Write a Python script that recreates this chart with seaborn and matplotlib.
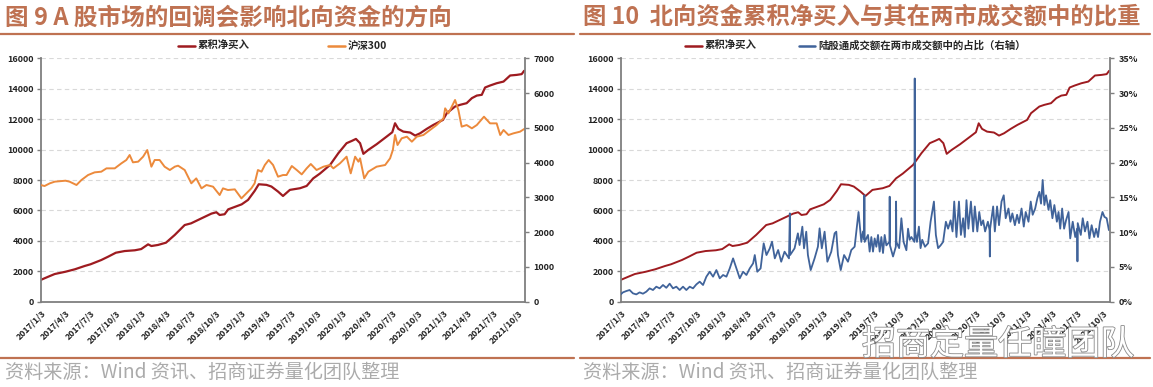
import numpy as np
import pandas as pd
import matplotlib
matplotlib.use("Agg")
import matplotlib.pyplot as plt
from matplotlib.lines import Line2D
import matplotlib.patheffects as pe
import seaborn as sns

# ---------------- data ----------------
# cumulative northbound net buy (亿元), left axis of both panels
net_dates = ["2017-01-03","2017-01-30","2017-02-23","2017-04-03","2017-05-07","2017-06-12","2017-07-03","2017-08-11",
             "2017-09-05","2017-10-03","2017-11-04","2017-12-11",
             "2018-01-03","2018-01-28","2018-02-09","2018-03-05","2018-04-03","2018-05-05","2018-06-10","2018-07-03",
             "2018-08-10","2018-09-15","2018-10-03","2018-10-15","2018-11-02","2018-11-15",
             "2019-01-03","2019-01-26","2019-02-19","2019-03-06","2019-04-03","2019-04-21","2019-05-15","2019-06-02",
             "2019-06-27","2019-08-03","2019-08-27","2019-09-20","2019-10-14","2019-11-20","2019-12-20",
             "2020-01-19","2020-02-07","2020-02-22","2020-03-08","2020-03-20","2020-04-07","2020-05-07","2020-06-13",
             "2020-07-03","2020-07-13","2020-07-25","2020-08-12","2020-09-06","2020-09-24","2020-10-12","2020-11-05",
             "2020-11-29",
             "2021-01-03","2021-01-17","2021-02-16","2021-03-06","2021-03-30","2021-04-18","2021-05-06","2021-05-24",
             "2021-06-05","2021-06-23","2021-07-17","2021-08-11","2021-09-04","2021-09-28","2021-10-16","2021-10-25"]
net_values = [1430,1640,1820,1970,2130,2350,2460,2740,2960,3220,3330,3380,
              3460,3770,3660,3730,3880,4390,5040,5150,5480,5790,5880,5700,5750,6070,
              6400,6690,7280,7720,7680,7570,7240,6950,7350,7460,7610,8110,8420,8990,9760,
              10420,10570,10700,10420,9720,9980,10350,10860,11140,11730,11360,11180,11120,10920,11070,11360,11620,
              11950,12390,12830,12940,13050,13380,13550,13600,14080,14210,14360,14470,14870,14910,14960,15180]

# CSI 300 index, right axis of the left panel
hs300_dates = ["2017-01-03","2017-01-17","2017-02-05","2017-02-23","2017-04-03","2017-04-18","2017-05-13","2017-05-31",
               "2017-06-24","2017-07-18","2017-08-11","2017-08-30","2017-09-29","2017-10-23","2017-11-10","2017-11-22",
               "2017-12-04","2017-12-23",
               "2018-01-10","2018-01-25","2018-02-09","2018-02-21","2018-03-11","2018-03-29","2018-04-17","2018-05-05",
               "2018-05-17","2018-06-10","2018-07-04","2018-07-22","2018-08-10","2018-08-28","2018-09-21","2018-10-15",
               "2018-10-27","2018-11-14","2018-12-09",
               "2019-01-02","2019-01-20","2019-02-07","2019-02-19","2019-03-03","2019-03-16","2019-03-28","2019-04-11",
               "2019-04-27","2019-05-15","2019-06-02","2019-06-15","2019-07-04","2019-07-22","2019-08-09","2019-08-27",
               "2019-09-11","2019-10-02","2019-10-27","2019-11-20","2019-12-02","2019-12-26",
               "2020-01-19","2020-02-03","2020-02-19","2020-03-02","2020-03-08","2020-03-23","2020-04-07","2020-05-07",
               "2020-06-07","2020-06-25","2020-07-05","2020-07-13","2020-07-22","2020-08-06","2020-08-25","2020-09-12",
               "2020-09-30","2020-10-24","2020-11-17","2020-12-11",
               "2021-01-05","2021-01-11","2021-01-23","2021-02-04","2021-02-16","2021-02-28","2021-03-12","2021-03-30",
               "2021-04-18","2021-05-06","2021-06-01","2021-06-23","2021-07-17","2021-07-30","2021-08-11","2021-08-29",
               "2021-09-16","2021-10-10","2021-10-25"]
hs300_values = [3356,3327,3404,3452,3480,3452,3356,3500,3643,3720,3739,3835,3835,3979,4075,4219,4008,4027,
                4171,4362,3883,4075,4075,3883,3787,3883,3912,3787,3404,3547,3260,3356,3308,3068,3260,3212,3231,
                2972,3116,3260,3404,3787,3739,3931,4075,3931,3595,3643,3643,3902,3787,3662,3835,3960,3787,3883,
                3931,3835,3979,
                4171,3691,4171,4027,4123,3547,3739,3883,3931,4123,4362,4794,4506,4698,4746,4602,4746,4794,4938,5081,
                5273,5561,5417,5609,5801,5513,5034,5081,4986,5081,5321,5129,5129,4794,4938,4794,4842,4890,4966]

# Stock Connect turnover as share of A-share turnover (%), right axis of the right panel
share_dates = ["2017-01-03","2017-01-11","2017-01-23","2017-02-04","2017-02-16","2017-02-28","2017-03-12","2017-03-24",
               "2017-04-05","2017-04-17","2017-04-29","2017-05-11","2017-05-23","2017-06-04","2017-06-16","2017-06-28",
               "2017-07-10","2017-07-22","2017-08-03","2017-08-15","2017-08-27","2017-09-08","2017-09-20","2017-10-02",
               "2017-10-14","2017-10-26","2017-11-07","2017-11-19","2017-12-01","2017-12-13","2017-12-25",
               "2018-01-06","2018-01-18","2018-01-30","2018-02-11","2018-02-23","2018-03-07","2018-03-19","2018-03-31",
               "2018-04-12","2018-04-24","2018-04-30","2018-05-09","2018-05-21","2018-06-01","2018-06-11","2018-06-23",
               "2018-07-01","2018-07-11","2018-07-23","2018-08-03","2018-08-15","2018-08-31","2018-09-03","2018-09-04",
               "2018-09-20","2018-10-02","2018-10-08","2018-10-18","2018-10-24","2018-11-01","2018-11-07","2018-11-17",
               "2018-12-01","2018-12-13","2018-12-19","2018-12-27",
               "2019-01-06","2019-01-16","2019-01-30","2019-02-11","2019-02-17","2019-02-23","2019-03-05","2019-03-17",
               "2019-03-31","2019-04-12","2019-04-24","2019-05-04","2019-05-08","2019-05-18","2019-05-24","2019-05-28",
               "2019-05-29","2019-05-30","2019-06-11","2019-06-17","2019-06-23","2019-06-29","2019-07-05","2019-07-11",
               "2019-07-17","2019-07-23","2019-07-29","2019-08-04","2019-08-10","2019-08-16","2019-08-27","2019-08-28",
               "2019-08-29","2019-09-09","2019-09-19","2019-09-20","2019-09-21","2019-10-01","2019-10-09","2019-10-17",
               "2019-10-27","2019-11-02","2019-11-08","2019-11-14","2019-11-25","2019-11-26","2019-11-27","2019-12-04",
               "2019-12-11","2019-12-17","2019-12-23",
               "2020-01-02","2020-01-13","2020-01-22","2020-02-03","2020-02-10","2020-02-18","2020-02-27","2020-03-07",
               "2020-03-17","2020-03-25","2020-04-03","2020-04-10","2020-04-16","2020-04-24","2020-05-03","2020-05-10",
               "2020-05-18","2020-05-24","2020-05-30","2020-06-06","2020-06-15","2020-06-23","2020-06-29","2020-07-08",
               "2020-07-15","2020-07-22","2020-07-29","2020-08-05","2020-08-15","2020-08-21","2020-08-22","2020-08-23",
               "2020-09-03","2020-09-09","2020-09-17","2020-09-24","2020-10-03","2020-10-11","2020-10-18","2020-10-28",
               "2020-11-04","2020-11-11","2020-11-20","2020-11-28","2020-12-05","2020-12-14","2020-12-22","2020-12-29",
               "2021-01-08","2021-01-16","2021-01-23","2021-02-01","2021-02-09","2021-02-16","2021-02-22","2021-02-28",
               "2021-03-06","2021-03-12","2021-03-21","2021-03-27","2021-04-04","2021-04-11","2021-04-20","2021-04-26",
               "2021-05-02","2021-05-09","2021-05-16","2021-05-23","2021-06-01","2021-06-07","2021-06-16","2021-06-25",
               "2021-07-02","2021-07-03","2021-07-04","2021-07-15","2021-07-22","2021-07-30","2021-08-08","2021-08-15",
               "2021-08-23","2021-09-01","2021-09-08","2021-09-15","2021-09-22","2021-10-01","2021-10-08","2021-10-16",
               "2021-10-24"]
share_values = [1.05,1.34,1.53,1.68,1.20,1.05,1.34,1.15,1.44,1.92,1.68,2.16,1.92,2.40,2.00,2.59,1.92,2.16,1.68,2.16,
                1.68,2.16,1.92,2.49,2.88,2.40,3.60,4.31,3.60,4.55,3.36,
                3.84,3.60,4.79,6.23,4.79,3.36,4.31,3.84,4.79,5.51,6.71,4.31,4.79,8.39,6.71,7.67,8.63,6.23,7.43,5.75,
                7.19,6.23,12.7,6.71,7.67,9.83,8.15,10.79,7.67,10.07,6.71,4.55,6.23,7.91,10.55,7.67,
                10.07,5.75,7.19,9.83,10.07,6.71,4.55,6.71,5.75,7.43,7.91,11.5,12.9,8.6,10.1,9.0,15.3,8.6,9.6,7.2,
                9.3,7.2,9.1,7.9,9.6,7.2,9.3,7.0,9.6,8.1,8.6,15.1,8.1,6.5,7.9,14.4,8.6,7.7,12.0,8.6,7.4,10.5,8.9,9.3,
                8.6,32.1,10.3,8.6,10.8,7.7,8.9,
                7.9,8.4,11.5,14.4,9.6,7.7,8.1,8.6,11.5,10.5,11.7,10.1,14.4,9.3,14.4,9.6,12.0,9.3,14.6,10.5,14.4,10.1,
                13.7,10.1,12.9,11.0,11.7,10.1,11.5,10.3,6.5,10.5,13.7,10.1,13.7,11.0,14.4,15.3,12.0,13.4,11.5,12.7,
                11.0,12.5,11.3,13.4,10.8,12.9,
                11.5,14.4,12.5,13.4,14.9,15.8,14.1,17.5,13.9,15.3,13.2,14.6,12.0,13.9,11.5,12.9,10.5,13.4,10.5,11.7,
                12.9,9.1,11.5,9.3,10.5,5.8,11.3,9.6,12.0,10.1,11.5,9.1,11.0,9.3,10.5,9.3,11.5,12.9,12.2,12.0,10.3]

xtick_labels = ["2017/1/3","2017/4/3","2017/7/3","2017/10/3","2018/1/3","2018/4/3","2018/7/3","2018/10/3",
                "2019/1/3","2019/4/3","2019/7/3","2019/10/3","2020/1/3","2020/4/3","2020/7/3","2020/10/3",
                "2021/1/3","2021/4/3","2021/7/3","2021/10/3"]
left_ticks = [0, 2000, 4000, 6000, 8000, 10000, 12000, 14000, 16000]
hs300_ticks = [0, 1000, 2000, 3000, 4000, 5000, 6000, 7000]
share_ticks = [0, 5, 10, 15, 20, 25, 30, 35]

title_left = "图 9 A 股市场的回调会影响北向资金的方向"
title_right = "图 10  北向资金累积净买入与其在两市成交额中的比重"
legend_net = "累积净买入"
legend_hs300 = "沪深300"
legend_share = "陆股通成交额在两市成交额中的占比（右轴）"
source_text = "资料来源：Wind 资讯、招商证券量化团队整理"
watermark = "招商定量任瞳团队"

# ---------------- style ----------------
sns.set_style("white")
plt.rcParams['font.family'] = ['Noto Sans CJK SC', 'DejaVu Sans']
plt.rcParams['axes.unicode_minus'] = False

RED = "#9E1B20"
ORANGE = "#EC8A3C"
BLUE = "#40639A"
BROWN = "#BF7252"
SPINE = "#7F7F7F"
GRID = "#D9D9D9"

W, H = 1153, 387
fig = plt.figure(figsize=(W / 100, H / 100), dpi=100)
axL = fig.add_axes([40.7 / W, (H - 301.7) / H, 484.3 / W, 243.4 / H])
axR = fig.add_axes([620.7 / W, (H - 301.7) / H, 489.3 / W, 243.4 / H])

net_df = pd.DataFrame({"date": pd.to_datetime(net_dates), "value": net_values})
hs_df = pd.DataFrame({"date": pd.to_datetime(hs300_dates), "value": hs300_values})
sh_df = pd.DataFrame({"date": pd.to_datetime(share_dates), "value": share_values})

xticks = pd.to_datetime(xtick_labels, format="%Y/%m/%d")
xlim = (pd.Timestamp("2017-01-03"), pd.Timestamp("2021-10-28"))


def style_panel(ax, ax2, rticks, rlabels):
    ax.set_xlim(*xlim)
    ax.set_ylim(0, 16000)
    ax.set_xlabel("")
    ax.set_ylabel("")
    ax2.set_xlabel("")
    ax2.set_ylabel("")
    ax.set_yticks(left_ticks)
    ax.set_yticklabels([str(v) for v in left_ticks], fontsize=6.5, fontweight="bold", color="#222222")
    ax.set_xticks(xticks)
    ax.set_xticklabels(xtick_labels, rotation=45, ha="right", rotation_mode="anchor",
                       fontsize=6.3, fontweight="bold", color="#222222")
    ax.yaxis.grid(True, linestyle=(0, (4, 3)), color=GRID, linewidth=0.8)
    ax.xaxis.grid(False)
    ax.set_axisbelow(True)
    ax.tick_params(axis="both", direction="out", length=3, width=1, color=SPINE, pad=2)
    ax2.set_yticks(rticks)
    ax2.set_yticklabels(rlabels, fontsize=6.5, fontweight="bold", color="#222222")
    ax2.tick_params(axis="y", direction="out", length=3, width=1, color=SPINE, pad=3)
    ax2.grid(False)
    for s in ["top", "right"]:
        ax.spines[s].set_visible(False)
    for s in ["left", "bottom"]:
        ax.spines[s].set_color(SPINE)
        ax.spines[s].set_linewidth(1.3)
    for s in ["top", "left", "bottom"]:
        ax2.spines[s].set_visible(False)
    ax2.spines["right"].set_color(SPINE)
    ax2.spines["right"].set_linewidth(1.3)


# left panel
sns.lineplot(data=net_df, x="date", y="value", ax=axL, color=RED, linewidth=1.6, legend=False)
axL2 = axL.twinx()
sns.lineplot(data=hs_df, x="date", y="value", ax=axL2, color=ORANGE, linewidth=1.4, legend=False)
axL2.set_ylim(0, 7000)
style_panel(axL, axL2, hs300_ticks, [str(v) for v in hs300_ticks])

# right panel
sns.lineplot(data=net_df, x="date", y="value", ax=axR, color=RED, linewidth=1.4, legend=False)
axR2 = axR.twinx()
sns.lineplot(data=sh_df, x="date", y="value", ax=axR2, color=BLUE, linewidth=1.3, legend=False)
axR2.set_ylim(0, 35)
style_panel(axR, axR2, share_ticks, [f"{v}%" for v in share_ticks])
axL2.set_xlim(*xlim)
axR2.set_xlim(*xlim)

# legends
leg_kw = dict(loc="lower center", ncol=2, frameon=False, handlelength=1.6, handletextpad=0.3,
              borderaxespad=0.0, prop={"size": 7.5, "weight": "bold"})
hL = [Line2D([], [], color=RED, lw=1.8, label=legend_net), Line2D([], [], color=ORANGE, lw=1.8, label=legend_hs300)]
axL2.legend(handles=hL, bbox_to_anchor=(0.50, 1.012), columnspacing=7.5, **leg_kw)
hR = [Line2D([], [], color=RED, lw=1.8, label=legend_net), Line2D([], [], color=BLUE, lw=1.8, label=legend_share)]
axR2.legend(handles=hR, bbox_to_anchor=(0.48, 1.012), columnspacing=4.0, **leg_kw)

# titles and rules
fig.text(5 / W, 1 - 17 / H, title_left, fontsize=17, color=BROWN, fontweight="bold", va="center", ha="left")
fig.text(583 / W, 1 - 17 / H, title_right, fontsize=16.8, color=BROWN, fontweight="bold", va="center", ha="left")
for x0, x1 in [(0, 574), (580, 1150)]:
    fig.add_artist(Line2D([x0 / W, x1 / W], [1 - 34 / H] * 2, color=BROWN, lw=1.6, transform=fig.transFigure))
    fig.add_artist(Line2D([x0 / W, x1 / W], [1 - 358 / H] * 2, color=BROWN, lw=1.6, transform=fig.transFigure))

fig.text(5 / W, 1 - 372 / H, source_text, fontsize=13.8, color="#ABABAB", va="center", ha="left")
fig.text(583 / W, 1 - 372 / H, source_text, fontsize=13.8, color="#ABABAB", va="center", ha="left")

# watermark
fig.text(862 / W, 1 - 345 / H, watermark, fontsize=24.5, color="white", va="center", ha="left",
         path_effects=[pe.withStroke(linewidth=1.2, foreground="#8A8A8A")], zorder=10)

fig.savefig("out.png", dpi=100)
